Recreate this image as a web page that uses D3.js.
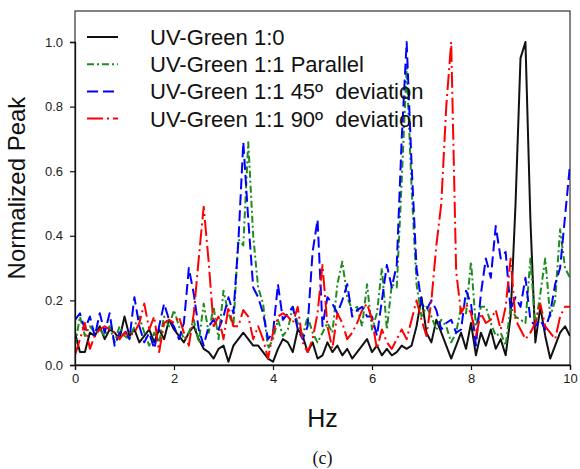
<!DOCTYPE html>
<html>
<head>
    <meta charset="utf-8">
    <title>Normalized Peak vs Hz</title>
    <script type="text/javascript" src="https://cdn.jsdelivr.net/npm/d3@7/dist/d3.min.js"></script>

    <style type="text/css">
        html, body {
            margin: 0;
            background: #fff;
        }

        text {
            font-family: "Liberation Sans", Arial, sans-serif;
            fill: #111;
        }

        .series {
            fill: none;
            stroke-width: 2;
            stroke-linejoin: round;
        }

        .axis text {
            font-size: 13px;
            fill: #222;
        }
    </style>
</head>

<body>

<script type="text/javascript">
    var w = 580, h = 469;

    // frequency axis, 0.1 Hz steps
    var hz = d3.range(0, 101).map(function (i) { return i / 10; });

    var uvGreen10 = [
        0.10, 0.04, 0.04, 0.10, 0.09, 0.12, 0.08, 0.11, 0.10, 0.08,
        0.15, 0.09, 0.11, 0.07, 0.09, 0.11, 0.07, 0.11, 0.08, 0.14,
        0.11, 0.09, 0.07, 0.10, 0.12, 0.08, 0.05, 0.04, 0.02, 0.05,
        0.06, 0.01, 0.06, 0.08, 0.10, 0.08, 0.06, 0.06, 0.04, 0.02,
        0.01, 0.05, 0.08, 0.07, 0.04, 0.11, 0.09, 0.04, 0.07, 0.02,
        0.03, 0.07, 0.04, 0.06, 0.03, 0.05, 0.02, 0.04, 0.06, 0.08,
        0.04, 0.06, 0.03, 0.05, 0.03, 0.04, 0.06, 0.05, 0.06, 0.12,
        0.21, 0.10, 0.07, 0.14, 0.10, 0.06, 0.02, 0.06, 0.10, 0.05,
        0.13, 0.03, 0.10, 0.06, 0.11, 0.05, 0.08, 0.03, 0.15, 0.50,
        0.95, 1.00, 0.45, 0.07, 0.18, 0.09, 0.02, 0.06, 0.10, 0.12,
        0.09
    ];

    var uvGreenParallel = [
        0.06, 0.15, 0.09, 0.12, 0.10, 0.11, 0.09, 0.12, 0.07, 0.12,
        0.09, 0.08, 0.12, 0.15, 0.10, 0.06, 0.10, 0.07, 0.15, 0.12,
        0.17, 0.12, 0.08, 0.10, 0.14, 0.07, 0.19, 0.10, 0.18, 0.08,
        0.23, 0.16, 0.12, 0.39, 0.37, 0.69, 0.40, 0.24, 0.19, 0.05,
        0.08, 0.14, 0.09, 0.11, 0.18, 0.13, 0.09, 0.15, 0.10, 0.07,
        0.10, 0.13, 0.10, 0.25, 0.32, 0.21, 0.17, 0.18, 0.12, 0.25,
        0.11, 0.16, 0.30, 0.11, 0.25, 0.24, 0.57, 0.92, 0.55, 0.25,
        0.15, 0.18, 0.15, 0.11, 0.14, 0.12, 0.07, 0.10, 0.18, 0.16,
        0.32, 0.12, 0.18, 0.18, 0.13, 0.09, 0.10, 0.06, 0.18, 0.15,
        0.14, 0.13, 0.33, 0.12, 0.22, 0.33, 0.15, 0.20, 0.42, 0.30,
        0.27
    ];

    var uvGreen45 = [
        0.14, 0.16, 0.11, 0.15, 0.09, 0.16, 0.10, 0.16, 0.06, 0.10,
        0.11, 0.08, 0.21, 0.12, 0.07, 0.10, 0.05, 0.12, 0.19, 0.14,
        0.12, 0.08, 0.13, 0.30, 0.22, 0.11, 0.06, 0.12, 0.14, 0.11,
        0.15, 0.21, 0.16, 0.38, 0.69, 0.45, 0.24, 0.21, 0.16, 0.08,
        0.10, 0.25, 0.14, 0.16, 0.18, 0.11, 0.08, 0.12, 0.35, 0.45,
        0.12, 0.21, 0.19, 0.16, 0.20, 0.25, 0.15, 0.17, 0.18, 0.15,
        0.15, 0.09, 0.20, 0.31, 0.24, 0.31, 0.70, 1.00, 0.62, 0.30,
        0.19, 0.17, 0.20, 0.17, 0.11, 0.13, 0.14, 0.10, 0.11, 0.23,
        0.19, 0.06, 0.22, 0.33, 0.27, 0.43, 0.33, 0.35, 0.17, 0.21,
        0.18, 0.27, 0.14, 0.12, 0.14, 0.11, 0.16, 0.25, 0.30, 0.46,
        0.62
    ];

    var uvGreen90 = [
        0.03, 0.08, 0.13, 0.05, 0.09, 0.11, 0.12, 0.11, 0.10, 0.08,
        0.10, 0.09, 0.10, 0.13, 0.19, 0.11, 0.15, 0.04, 0.13, 0.14,
        0.13, 0.15, 0.10, 0.06, 0.16, 0.33, 0.49, 0.32, 0.12, 0.15,
        0.08, 0.18, 0.12, 0.12, 0.17, 0.15, 0.08, 0.12, 0.08, 0.02,
        0.10, 0.15, 0.16, 0.15, 0.13, 0.18, 0.07, 0.04, 0.08, 0.16,
        0.31, 0.12, 0.05, 0.16, 0.13, 0.08, 0.10, 0.13, 0.17, 0.19,
        0.14, 0.05, 0.11, 0.07, 0.05, 0.08, 0.11, 0.08, 0.14, 0.20,
        0.14, 0.09, 0.20, 0.37, 0.50, 0.80, 1.00, 0.29, 0.16, 0.19,
        0.16, 0.09, 0.16, 0.13, 0.14, 0.17, 0.11, 0.18, 0.33, 0.14,
        0.11, 0.08, 0.10, 0.13, 0.19, 0.12, 0.10, 0.08, 0.15, 0.18,
        0.18
    ];

    var seriesNames = [
        "UV-Green 1:0",
        "UV-Green 1:1 Parallel",
        "UV-Green 1:1 45\u00ba  deviation",
        "UV-Green 1:1 90\u00ba  deviation"
    ];
    var seriesColors = ["#111111", "#1e8c1e", "#0000ff", "#ff0000"];
    var seriesDash = ["none", "7,3,2,3", "11,5", "16,4,2,4"];
    var seriesValues = [uvGreen10, uvGreenParallel, uvGreen45, uvGreen90];

    var xTicks = [0, 2, 4, 6, 8, 10];
    var yTicks = [0, 0.2, 0.4, 0.6, 0.8, 1.0];

    var plotLeft = 75, plotRight = 570, plotTop = 11, plotBottom = 365;

    var x = d3.scaleLinear().domain([0, 10]).range([plotLeft, plotRight]);
    var y = d3.scaleLinear().domain([0, 1]).range([plotBottom, 42]);

    var svg = d3.select("body")
            .append("svg")
                .attr("width", w)
                .attr("height", h);

    svg.append("clipPath")
            .attr("id", "plot-clip")
        .append("rect")
            .attr("x", plotLeft)
            .attr("y", plotTop)
            .attr("width", plotRight - plotLeft)
            .attr("height", plotBottom - plotTop);

    // frame
    svg.append("rect")
        .attr("x", plotLeft)
        .attr("y", plotTop)
        .attr("width", plotRight - plotLeft)
        .attr("height", plotBottom - plotTop)
        .attr("fill", "none")
        .attr("stroke", "#333")
        .attr("stroke-width", 1.2);

    var line = d3.line()
        .x(function (d, i) { return x(hz[i]); })
        .y(function (d) { return y(d); });

    svg.append("g")
            .attr("clip-path", "url(#plot-clip)")
        .selectAll("path")
            .data(seriesValues)
        .enter().append("path")
            .attr("class", "series")
            .attr("d", line)
            .attr("stroke", function (d, i) { return seriesColors[i]; })
            .attr("stroke-dasharray", function (d, i) { return seriesDash[i]; });

    var xAxis = svg.append("g")
        .attr("class", "axis")
        .attr("transform", "translate(0," + plotBottom + ")")
        .call(d3.axisBottom(x).tickValues(xTicks).tickSize(5).tickPadding(4)
            .tickFormat(d3.format("d")));

    var yAxis = svg.append("g")
        .attr("class", "axis")
        .attr("transform", "translate(" + plotLeft + ",0)")
        .call(d3.axisLeft(y).tickValues(yTicks).tickSize(5).tickPadding(7)
            .tickFormat(d3.format(".1f")));

    [xAxis, yAxis].forEach(function (g) {
        g.attr("font-size", 13).attr("font-family", null);
        g.select(".domain").attr("stroke", "#111").attr("stroke-width", 1.3);
        g.selectAll(".tick line").attr("stroke", "#111").attr("stroke-width", 1.2);
    });

    // legend
    var legend = svg.append("g")
        .selectAll("g")
            .data(seriesNames)
        .enter().append("g")
            .attr("transform", function (d, i) { return "translate(0," + (37 + i * 27.2) + ")"; });

    legend.append("line")
        .attr("x1", 87)
        .attr("x2", 118)
        .attr("stroke-width", 2)
        .attr("stroke", function (d, i) { return seriesColors[i]; })
        .attr("stroke-dasharray", function (d, i) { return seriesDash[i]; });

    legend.append("text")
        .attr("x", 150)
        .attr("y", 8)
        .style("font-size", "22px")
        .style("white-space", "pre")
        .text(function (d) { return d; });

    svg.append("text")
        .attr("transform", "translate(25,188) rotate(-90)")
        .attr("text-anchor", "middle")
        .style("font-size", "24px")
        .text("Normalized Peak");

    svg.append("text")
        .attr("x", (plotLeft + plotRight) / 2)
        .attr("y", 427)
        .attr("text-anchor", "middle")
        .style("font-size", "25px")
        .text("Hz");

    svg.append("text")
        .attr("x", (plotLeft + plotRight) / 2)
        .attr("y", 464)
        .attr("text-anchor", "middle")
        .style("font-family", "'Liberation Serif', 'DejaVu Serif', serif")
        .style("font-size", "18px")
        .text("(c)");
</script>

</body>

</html>
